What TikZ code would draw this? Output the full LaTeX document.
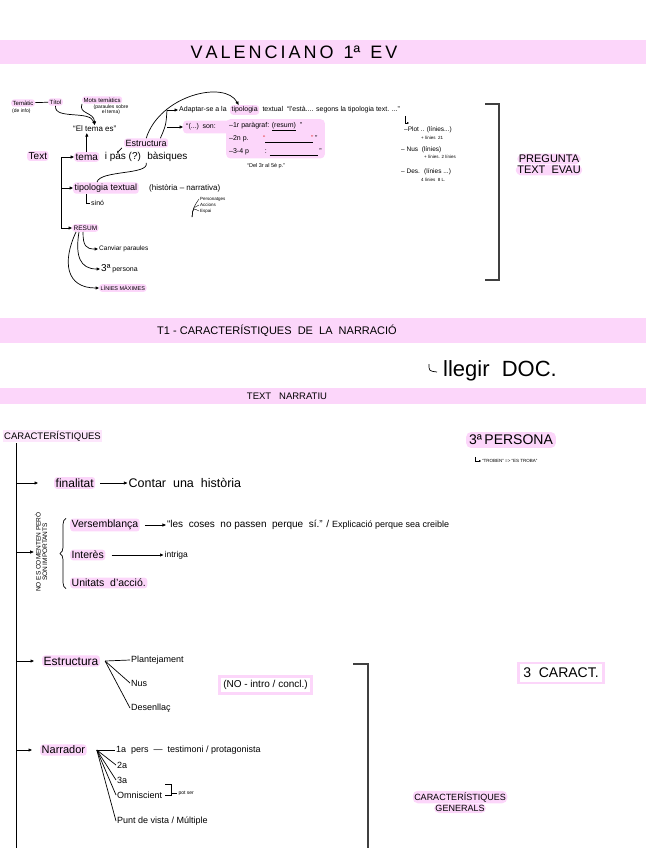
\documentclass[tikz,border=0pt]{standalone}
\usepackage{fontspec}
\setmainfont{Liberation Sans}
\usetikzlibrary{arrows.meta, positioning, decorations.pathreplacing}
\definecolor{hlpink}{RGB}{252,214,250}
\definecolor{markred}{RGB}{228,45,45}
\newcommand{\hsz}[1]{\fontsize{#1}{#1}\selectfont}

\begin{document}
\begin{tikzpicture}[x=1pt, y=-1pt,
    every node/.style={inner sep=1pt, anchor=west},
    hl/.style={fill=hlpink, rounded corners=3pt, inner sep=1.5pt},
    hlbox/.style={draw=hlpink, line width=2.5pt, inner sep=4pt},
    tip/.style={-{Triangle[length=3.5pt, width=3pt]}},
    smalltip/.style={-{Triangle[length=2pt, width=2pt]}},
    ln/.style={line width=0.7pt},
    bracket/.style={line width=1.2pt, black!75},
    node distance=0pt]
  \useasboundingbox (0,0) rectangle (646,848);

  % bands
  \fill[hlpink] (0,40) rectangle (646,64);
  \fill[hlpink] (0,318) rectangle (646,343);
  \fill[hlpink] (0,388) rectangle (646,404);
  \node[anchor=center, font=\hsz{18}] (title) at (294,52) {V\,A\,L\,E\,N\,C\,I\,A\,N\,O \ 1ª \ E\,V};
  \node[anchor=center, font=\hsz{11}] (t1) at (277,331) {T1 - CARACTERÍSTIQUES \ DE \ LA \ NARRACIÓ};
  \node[anchor=center, font=\hsz{9.5}] (narr) at (287,396) {TEXT \ \ NARRATIU};

  % --- Text (pregunta EVAU)
  \node[hl, font=\hsz{6}] (tematic) at (11,103) {Temàtic};
  \node[font=\hsz{5}] (deinfo) at (11,111) {(de info)};
  \node[hl, font=\hsz{6}] (titol) at (48,102) {Títol};
  \draw[ln] (tematic) -- (titol);
  \node[hl, font=\hsz{6}] (mots) at (82,100) {Mots temàtics};
  \node[anchor=north, font=\hsz{5}, align=center] (motsnote) at (111,104) {(paraules sobre\\el tema)};
  \node[font=\hsz{8}] (eltema) at (72,129) {“El tema es”};
  \draw[ln, tip] (titol.south) .. controls (54,120) and (90,110) .. (eltema.north);
  \draw[ln, tip] (mots.south west) .. controls (78,114) and (94,112) .. (eltema.north);

  \node[hl, font=\hsz{10}] (text) at (27,156) {Text};
  \node[hl, font=\hsz{10}] (tema) at (74,157) {tema};
  \node[font=\hsz{10}, right=4pt of tema] (pas) {i pas (?)};
  \node[font=\hsz{10}, right=4pt of pas] (basiq) {bàsiques};
  \draw[ln, tip] (tema.north) -- (tema.north |- eltema.south);
  \node[hl, font=\hsz{9}] (estr) at (124,143) {Estructura};
  \draw[ln, smalltip] ([xshift=-2pt]estr.south west) -- ++(-5,5);

  \coordinate (ttop) at (61,157);
  \coordinate (tbot) at (61,229);
  \draw[ln] (ttop) -- (tbot);
  \draw[ln, tip] (ttop) -- (tema.west);

  % estructura -> adaptar-se
  \node[font=\hsz{7}] (adapt) at (178,110) {Adaptar-se a la};
  \node[hl, font=\hsz{7}, right=2pt of adapt] (tipo2) {tipologia};
  \node[font=\hsz{7}, right=2pt of tipo2] (adapt3) {textual \ “l'està.... segons la tipologia text. ...”};
  \node[hl, font=\hsz{7}, inner sep=3pt, text width=44pt] (sonl) at (183,127) {“(...) son:};
  \node[fill=hlpink, rounded corners=4pt, anchor=north west, inner sep=3pt, font=\fontsize{7}{13}\selectfont, align=left] (parag) at (226,119)
    {–1r paràgraf: \underline{(resum)} \ ”\\
     –2n p. \qquad \underline{\hspace{48pt}} ”\\
     –3-4 p \qquad : \underline{\hspace{48pt}} ”};
  \node[font=\hsz{7}, text=markred] (redl) at (262,138) {“};
  \node[font=\hsz{7}, text=markred] (redr) at (310,138) {”};
  \node[font=\hsz{5.5}] (del) at (246,166) {“Del 3r al 5è p.”};
  \coordinate (ebr) at (167,110);
  \draw[ln] ([xshift=-8pt]estr.north east) .. controls (166,125) .. (ebr);
  \draw[ln, tip] (ebr) -- (adapt.west);
  \draw[ln, tip] (ebr |- sonl.west) -- (sonl.west);
  \draw[ln, tip] (estr.north) .. controls (160,95) and (225,80) .. ([xshift=-6pt]tipo2.north);

  \node[font=\hsz{6.5}] (plot) at (403,130) {–Plot .. (línies...)};
  \node[font=\hsz{4.5}] (plotn) at (420,138) {+ línies \ 21};
  \node[font=\hsz{6.5}] (nus) at (400,150) {– Nus \ (línies)};
  \node[font=\hsz{4.5}] (nusn) at (423,157) {+ línies. 2 línies};
  \node[font=\hsz{6.5}] (des) at (400,172) {– Des. \ (línies ...)};
  \node[font=\hsz{4.5}] (desn) at (420,180) {4 línies \ 8 L.};
  \draw[line width=0.5pt, smalltip] ([xshift=2pt, yshift=14pt]plot.west) |- ++(4,7);
  \draw[bracket] (485,104) -- (499,104) -- (499,280) -- (485,280);
  \node[hl, anchor=center, font=\hsz{11}, rounded corners=6pt] (preg) at (549,159) {PREGUNTA};
  \node[hl, font=\hsz{11}, rounded corners=6pt, below=0pt of preg] (evau) {TEXT \ EVAU};

  % tipologia i resum
  \node[hl, font=\hsz{9}] (tipo) at (73,188) {tipologia textual};
  \node[font=\hsz{8}, right=9pt of tipo] (hist) {(història – narrativa)};
  \draw[ln] (basiq.south west) .. controls (150,175) and (100,170) .. ([xshift=24pt]tipo.north west);
  \draw[ln, tip] (tipo.west -| ttop) -- (tipo.west);
  \node[font=\hsz{7}] (sino) at (90,203) {sinó};
  \draw[ln] ([xshift=13pt]tipo.south west) |- (sino.west);
  \node[font=\hsz{4.5}] (pers) at (199,199) {Personatges};
  \node[font=\hsz{4.5}] (acc) at (199,205) {Accions};
  \node[font=\hsz{4.5}] (esp) at (199,211) {Espai};
  \coordinate (fan) at (192,217);
  \foreach \n in {pers, acc, esp}
    \draw[line width=0.4pt] (fan) .. controls (193,208) .. (\n.west);

  \node[hl, font=\hsz{6.5}] (resum) at (72,228) {RESUM};
  \draw[ln, tip] (resum.west -| ttop) -- (resum.west);
  \node[font=\hsz{6.5}] (canvi) at (98,249) {Canviar paraules};
  \node[font=\hsz{7}] (pers3) at (100,269) {\hsz{10}3ª\hsz{7} persona};
  \node[hl, font=\hsz{5.5}] (linies) at (99,288) {LÍNIES MÀXIMES};
  \draw[ln, tip] ([xshift=11pt]resum.south west) .. controls (83,246) and (86,249) .. (canvi.west);
  \draw[ln, tip] ([xshift=7pt]resum.south west) .. controls (75,256) and (80,269) .. (pers3.west);
  \draw[ln, tip] ([xshift=4pt]resum.south west) .. controls (62,262) and (66,288) .. (linies.west);

  % llegir doc
  \node[font=\hsz{22}] (llegir) at (442,371) {llegir \ DOC.};
  \draw[ln] ([xshift=-13pt, yshift=7pt]llegir.west) .. controls ([xshift=-13pt]llegir.west) .. ([xshift=-5pt, yshift=-1pt]llegir.west);

  % --- caracteristiques
  \node[fill=hlpink!60, font=\hsz{9.5}] (carac) at (3,436) {CARACTERÍSTIQUES};
  \coordinate (trtop) at (16,443);
  \coordinate (trbot) at (16,848);
  \draw[line width=1pt] (trtop) -- (trbot);

  \node[hl, font=\hsz{12}] (fin) at (54,483) {finalitat};
  \node[font=\hsz{12.5}, right=32pt of fin] (contar) {Contar \ una \ història};
  \draw[ln, tip] (fin.west -| trtop) -- ([xshift=-16pt]fin.west);
  \draw[ln, tip] ([xshift=5pt]fin.east) -- (contar.west);

  \node[rotate=90, anchor=center, font=\hsz{6.5}, align=center] (noes) at (41,552) {NO ES COMENTEN PERÒ\\SON IMPORTANTS};
  \draw[ln, tip] (noes.north -| trtop) -- (noes.north);

  \node[hl, font=\hsz{10.5}] (vers) at (70,525) {Versemblança};
  \node[font=\hsz{10}, right=26pt of vers] (coses) {“les \ coses \ no passen \ perque \ sí.” / \hsz{9}Explicació perque sea creible};
  \draw[ln, tip] ([xshift=5pt]vers.east) -- (coses.west);
  \node[hl, font=\hsz{10.5}] (inter) at (70,555) {Interès};
  \node[font=\hsz{8.5}, right=58pt of inter] (intriga) {intriga};
  \draw[ln, tip] ([xshift=6pt]inter.east) -- (intriga.west);
  \node[hl, font=\hsz{10.5}] (unit) at (70,583) {Unitats \ d'acció.};
  \draw[ln, decorate, decoration={brace, amplitude=6pt}] ([xshift=-4pt]unit.south west) -- ([xshift=-4pt]vers.north west);

  \node[hl, anchor=center, font=\hsz{14}, rounded corners=5pt, inner sep=3pt] (p3) at (511,440) {3ª\,PERSONA};
  \node[font=\hsz{4.5}] (troben) at (481,461) {“TROBEN” => “ES TROBA”};
  \draw[line width=0.4pt, smalltip] ([xshift=-6pt, yshift=4pt]troben.west) |- (troben.west);

  % estructura
  \node[hl, font=\hsz{12}] (estr2) at (42,661) {Estructura};
  \draw[ln, tip] (estr2.west -| trtop) -- ([xshift=-8pt]estr2.west);
  \coordinate (ebr2) at ([xshift=5pt]estr2.east);
  \node[font=\hsz{9}] (plant) at (130,660) {Plantejament};
  \node[font=\hsz{9}] (nus2) at (130,683) {Nus};
  \node[font=\hsz{9}] (desen) at (130,708) {Desenllaç};
  \foreach \n in {plant, nus2, desen}
    \draw[ln] (ebr2) -- (\n.west);
  \node[hlbox, font=\hsz{10}] (nointro) at (218,685) {(NO - intro / concl.)};
  \draw[bracket] (353,664) -- (368,664) -- (368,848);
  \node[hlbox, font=\hsz{14}, inner sep=5pt] (tres) at (517,673) {3 \ CARACT.};

  % narrador
  \node[hl, font=\hsz{11}] (narrador) at (40,750) {Narrador};
  \draw[ln, tip] (narrador.west -| trtop) -- ([xshift=-8pt]narrador.west);
  \coordinate (nbr) at ([xshift=10pt]narrador.east);
  \node[font=\hsz{9}] (n1) at (115,750) {1a \ pers \ — \ testimoni / protagonista};
  \node[font=\hsz{9}] (n2) at (116,765) {2a};
  \node[font=\hsz{9}] (n3) at (116,780) {3a};
  \node[font=\hsz{9}] (omni) at (116,795) {Omniscient};
  \node[font=\hsz{9}] (punt) at (116,821) {Punt de vista / Múltiple};
  \foreach \n in {n1, n2, n3, omni, punt}
    \draw[ln] (nbr) -- (\n.west);
  \coordinate (bt) at ([xshift=2pt]omni.east |- n3.south);
  \coordinate (bb) at ([xshift=2pt]omni.east);
  \draw[ln] (bt) -- ++(6,0) |- (bb);
  \node[font=\hsz{5}] (potser) at ([xshift=14pt, yshift=2pt]omni.east) {pot ser};
  \draw[ln] ([xshift=8pt, yshift=2pt]omni.east) -- (potser.west);

  \node[hl, anchor=center, font=\hsz{9}, rounded corners=5pt] (cg1) at (460,797) {CARACTERÍSTIQUES};
  \node[hl, font=\hsz{9}, rounded corners=5pt, below=0pt of cg1] (cg2) {GENERALS};
\end{tikzpicture}
\end{document}
